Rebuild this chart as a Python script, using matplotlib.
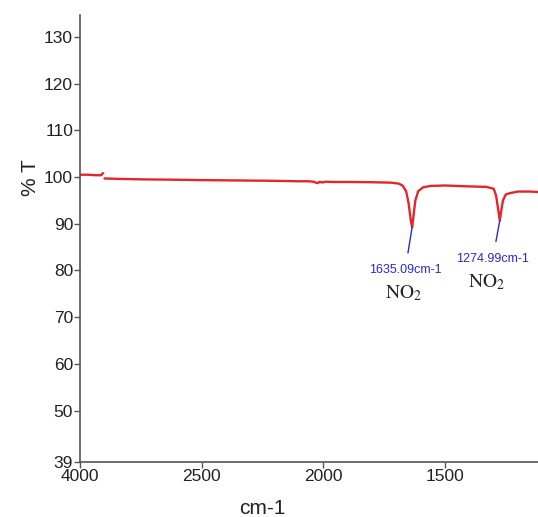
import numpy as np
import matplotlib
matplotlib.use("Agg")
import matplotlib.pyplot as plt

# FTIR transmittance spectrum
wavenumber = [4000, 3900, 3800, 3740, 3718, np.nan, 3694, 3500, 3200, 2900,
              2700, 2500, 2400, 2300, 2200, 2100, 2060, 2040, 2030, 2023,
              2015, 2005, 1990, 1950, 1900, 1800, 1720, 1690, 1675, 1660,
              1650, 1640, 1635, 1630, 1622, 1610, 1590, 1560, 1500, 1450,
              1400, 1330, 1300, 1290, 1280, 1275, 1270, 1262, 1250, 1230,
              1200, 1150, 1118]
transmittance = [100.5, 100.5, 100.4, 100.4, 100.8, np.nan, 99.7, 99.6, 99.5, 99.45,
                 99.4, 99.35, 99.3, 99.25, 99.2, 99.1, 99.1, 99.0, 98.8, 98.7,
                 99.0, 98.85, 99.0, 98.95, 98.95, 98.9, 98.8, 98.6, 98.2, 97.0,
                 94.5, 90.5, 89.3, 91.5, 95.0, 97.0, 97.8, 98.1, 98.2, 98.1,
                 98.0, 97.9, 97.5, 96.0, 92.5, 90.7, 92.5, 95.0, 96.3, 96.6,
                 96.9, 96.9, 96.8]

peak_pos = [1635.09, 1274.99]
peak_T = [89.3, 90.7]
peak_text = ["1635.09cm-1", "1274.99cm-1"]
peak_group = [r"$\mathrm{NO}_2$", r"$\mathrm{NO}_2$"]

xticks = [4000, 2500, 2000, 1500]
yticks = [39, 50, 60, 70, 80, 90, 100, 110, 120, 130]

plt.rcParams["font.family"] = ["Liberation Sans Narrow", "Liberation Sans", "DejaVu Sans"]
plt.rcParams["mathtext.fontset"] = "stix"


# spectrometer-style axis: 4000-2500 compressed to a third
def fwd(w):
    w = np.asarray(w, dtype=float)
    return np.where(w >= 2500, 2500 + (w - 2500) / 3, w)


def inv(u):
    u = np.asarray(u, dtype=float)
    return np.where(u >= 2500, 2500 + (u - 2500) * 3, u)


fig = plt.figure(figsize=(5.38, 5.17), dpi=100)
ax = fig.add_axes([80 / 538, 55 / 517, 458 / 538, 447 / 517])
ax.set_xscale("function", functions=(fwd, inv))
ax.plot(wavenumber, transmittance, color="#e3262b", lw=1.7)
ax.set_xlim(4000, 1118)
ax.set_ylim(39, 134.7)
ax.set_xticks(xticks)
ax.set_xticklabels([str(t) for t in xticks])
ax.set_yticks(yticks)
ax.set_yticklabels([str(t) for t in yticks])
ax.minorticks_off()

for s in ["top", "right"]:
    ax.spines[s].set_visible(False)
for s in ["left", "bottom"]:
    ax.spines[s].set_color("#555555")
    ax.spines[s].set_linewidth(1.2)
ax.tick_params(axis="both", direction="out", length=4, width=1,
               color="#555555", labelsize=12.5, labelcolor="#222222", pad=1)

offsets = [(-7, -43), (-7, -38)]
group_off = [(-9, 66), (-13, 62)]
for x, yv, txt, grp, off, goff in zip(peak_pos, peak_T, peak_text, peak_group,
                                      offsets, group_off):
    ax.annotate(txt, xy=(x, yv), xytext=off, textcoords="offset pixels",
                ha="center", va="center", fontsize=9, color="#2a2ad0",
                arrowprops=dict(arrowstyle="-", color="#2a2ad0", lw=1,
                                shrinkA=6, shrinkB=0))
    ax.annotate(grp, xy=(x, yv), xytext=(goff[0], -goff[1]),
                textcoords="offset pixels", ha="center", va="center",
                fontsize=14, color="#222222")

fig.text(30 / 538, 1 - 178 / 517, "% T", rotation=90, ha="center",
         va="center", fontsize=15, color="#222222")
fig.text(262 / 538, 1 - 508 / 517, "cm-1", ha="center", va="center",
         fontsize=15, color="#222222")

fig.savefig("out.png", dpi=100)
